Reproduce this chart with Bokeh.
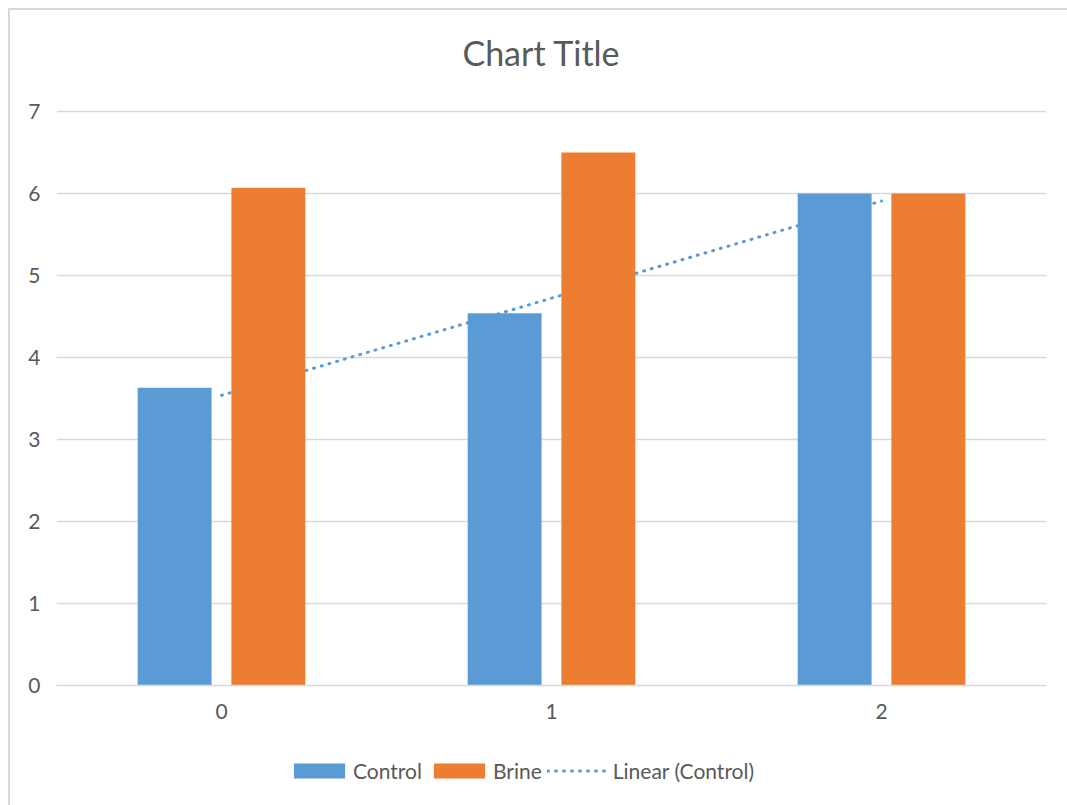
import numpy as np
from bokeh.plotting import figure
from bokeh.layouts import column
from bokeh.models import (Range1d, FixedTicker, Legend, LegendItem,
                          ColumnDataSource, Label)
from bokeh.embed import file_html
from bokeh.resources import INLINE

# Data
categories = [0, 1, 2]
control = [3.63, 4.54, 6.00]
brine = [6.07, 6.50, 6.00]
y_ticks = [0, 1, 2, 3, 4, 5, 6, 7]
title_text = "Chart Title"

BLUE = "#5B9BD5"
ORANGE = "#ED7D31"
TEXT = "#595959"
GRID = "#D9D9D9"
FONT = "Lato"

bar_w = 0.224
shift = 0.142

src = ColumnDataSource(dict(
    x_ctrl=[c - shift for c in categories],
    x_brine=[c + shift for c in categories],
    control=control,
    brine=brine,
))

# least-squares trend of the Control series
slope, intercept = np.polyfit(categories, control, 1)
trend_x = [categories[0], categories[-1]]
trend_y = [intercept + slope * x for x in trend_x]

W = 1057
# frame: 665 px tall; value 7 sits 574 px above the baseline
y_top = 7 * 665 / 574

p = figure(
    width=W, height=735,
    x_range=Range1d(-0.5, 2.5), y_range=Range1d(0, y_top),
    output_backend="svg", toolbar_location=None,
    min_border_left=46, min_border_right=21,
    min_border_top=10, min_border_bottom=60,
)
p.outline_line_color = None
p.border_fill_color = "white"

trend = p.line(trend_x, trend_y, line_color=BLUE, line_width=3,
               line_dash="1 7", line_cap="round")
r_ctrl = p.vbar(x="x_ctrl", top="control", width=bar_w, source=src,
                fill_color=BLUE, line_color=None)
r_brine = p.vbar(x="x_brine", top="brine", width=bar_w, source=src,
                 fill_color=ORANGE, line_color=None)

p.add_layout(Label(
    x=485, y=633, x_units="screen", y_units="screen", text=title_text,
    text_align="center", text_baseline="middle",
    text_font=FONT, text_font_size="34px", text_color=TEXT,
))

p.xgrid.grid_line_color = None
p.ygrid.grid_line_color = GRID
p.ygrid.grid_line_width = 1.3
p.yaxis.ticker = FixedTicker(ticks=y_ticks)
p.xaxis.ticker = FixedTicker(ticks=categories)

for ax in (p.xaxis, p.yaxis):
    ax.major_tick_line_color = None
    ax.minor_tick_line_color = None
    ax.major_tick_in = 0
    ax.major_tick_out = 0
    ax.major_label_text_font = FONT
    ax.major_label_text_font_size = "21px"
    ax.major_label_text_color = TEXT
p.yaxis.axis_line_color = None
p.yaxis.major_label_standoff = 16
p.xaxis.axis_line_color = GRID
p.xaxis.axis_line_width = 1.3
p.xaxis.major_label_standoff = 18

# legend strip under the chart; its renderers reuse the chart's sources,
# the strip's ranges keep them out of view so only the legend shows
lf = figure(
    width=W, height=60,
    x_range=Range1d(100, 101), y_range=Range1d(100, 101),
    output_backend="svg", toolbar_location=None,
    x_axis_location=None, y_axis_location=None,
    min_border_left=46, min_border_right=21,
    min_border_top=0, min_border_bottom=0,
)
lf.outline_line_color = None
lf.grid.grid_line_color = None
g_ctrl = lf.vbar(x="x_ctrl", top="control", width=bar_w, source=src,
                 fill_color=BLUE, line_color=None)
g_brine = lf.vbar(x="x_brine", top="brine", width=bar_w, source=src,
                  fill_color=ORANGE, line_color=None)
g_trend = lf.line(trend_x, trend_y, line_color=BLUE, line_width=3,
                  line_dash="1 7", line_cap="round")

legend = Legend(
    items=[
        LegendItem(label="Control", renderers=[g_ctrl]),
        LegendItem(label="Brine", renderers=[g_brine]),
        LegendItem(label="Linear (Control)", renderers=[g_trend]),
    ],
    orientation="horizontal",
    location=(231, 22),
    glyph_width=64, glyph_height=19,
    label_standoff=2, spacing=5,
    padding=0, margin=0,
    border_line_color=None, background_fill_alpha=0,
    label_text_font=FONT, label_text_font_size="21px",
    label_text_color=TEXT,
)
lf.add_layout(legend, "center")

page = column(p, lf, spacing=0)
page.margin = (8, 0, 0, 8)
page.styles = {"border-top": "2px solid #d9d9d9",
               "border-left": "2px solid #d9d9d9"}

open("out.html", "w").write(file_html(page, INLINE))
